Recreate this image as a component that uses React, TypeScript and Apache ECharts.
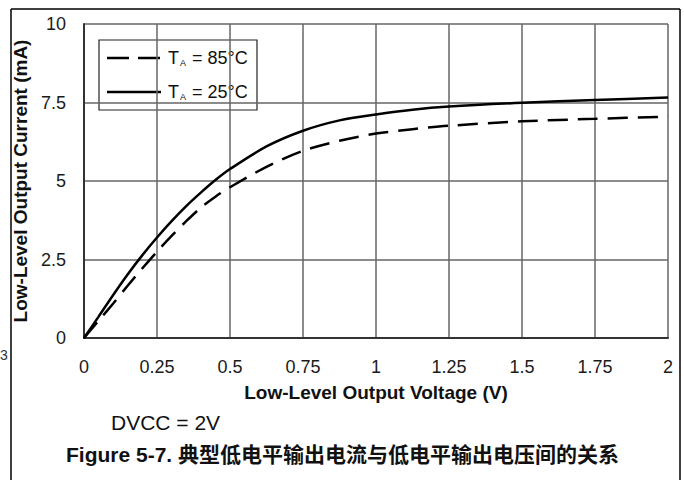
import React, { useEffect, useRef } from "react";
import * as echarts from "echarts";

const voltage25 = [0, 0.05, 0.1, 0.15, 0.2, 0.25, 0.3, 0.35, 0.4, 0.45, 0.5, 0.625, 0.75, 0.875, 1.0, 1.125, 1.25, 1.5, 1.75, 2.0];
const current25 = [0, 0.68, 1.37, 2.03, 2.64, 3.2, 3.72, 4.2, 4.63, 5.03, 5.38, 6.1, 6.6, 6.93, 7.12, 7.27, 7.37, 7.49, 7.58, 7.66];
const voltage85 = [0, 0.05, 0.1, 0.15, 0.2, 0.25, 0.3, 0.35, 0.4, 0.45, 0.5, 0.625, 0.75, 0.875, 1.0, 1.125, 1.25, 1.5, 1.75, 2.0];
const current85 = [0, 0.55, 1.1, 1.67, 2.22, 2.75, 3.25, 3.72, 4.15, 4.5, 4.8, 5.45, 5.96, 6.28, 6.51, 6.65, 6.76, 6.9, 6.98, 7.05];

const seriesNames = ["TA = 85°C", "TA = 25°C"];
const legendTexts = ["{t|T}{s|A}{t| = 85°C}", "{t|T}{s|A}{t| = 25°C}"];
const xAxisTitle = "Low-Level Output Voltage (V)";
const yAxisTitle = "Low-Level Output Current (mA)";
const noteText = "DVCC = 2V";
const captionText = "Figure 5-7. 典型低电平输出电流与低电平输出电压间的关系";

const FONT = "'Liberation Sans', Arial, 'Noto Sans CJK SC', sans-serif";
const DASH = [20, 10];

export default function App() {
  const ref = useRef<HTMLDivElement>(null);
  useEffect(() => {
    if (!ref.current) return;
    const chart = echarts.init(ref.current, null, { renderer: "svg" });
    const zip = (xs: number[], ys: number[]) => xs.map((x, i) => [x, ys[i]]);
    const richStyle = {
      t: { fontSize: 18, fontFamily: FONT, fill: "#111", color: "#111" },
      s: { fontSize: 9, fontFamily: FONT, fill: "#111", color: "#111", verticalAlign: "bottom", padding: [9, 1, 0, 1] },
    };
    chart.setOption({
      animation: false,
      backgroundColor: "#ffffff",
      textStyle: { fontFamily: FONT },
      grid: { left: 84, top: 24, right: 16, bottom: 142, containLabel: false },
      xAxis: {
        type: "value",
        min: 0,
        max: 2,
        interval: 0.25,
        name: xAxisTitle,
        nameLocation: "middle",
        nameGap: 45,
        nameTextStyle: { fontFamily: FONT, fontSize: 19, fontWeight: "bold", color: "#111" },
        axisLine: { show: true, lineStyle: { color: "#333", width: 2 } },
        axisTick: { show: false },
        axisLabel: { fontFamily: FONT, fontSize: 18, color: "#1a1a1a", margin: 20 },
        splitLine: { show: true, lineStyle: { color: "#666", width: 1.5 } },
      },
      yAxis: {
        type: "value",
        min: 0,
        max: 10,
        interval: 2.5,
        name: yAxisTitle,
        nameLocation: "middle",
        nameRotate: 90,
        nameGap: 47,
        nameTextStyle: { fontFamily: FONT, fontSize: 19, fontWeight: "bold", color: "#111" },
        axisLine: { show: true, lineStyle: { color: "#333", width: 2 } },
        axisTick: { show: false },
        axisLabel: { fontFamily: FONT, fontSize: 18, color: "#1a1a1a", margin: 18 },
        splitLine: { show: true, lineStyle: { color: "#666", width: 1.5 } },
      },
      series: [
        {
          name: seriesNames[0],
          type: "line",
          data: zip(voltage85, current85),
          symbol: "none",
          showSymbol: false,
          smooth: 0.3,
          color: "#000",
          lineStyle: { color: "#000", width: 2.5, type: DASH },
          z: 3,
        },
        {
          name: seriesNames[1],
          type: "line",
          data: zip(voltage25, current25),
          symbol: "none",
          showSymbol: false,
          smooth: 0.3,
          color: "#000",
          lineStyle: { color: "#000", width: 2.5, type: "solid" },
          z: 4,
        },
      ],
      graphic: [
        { type: "line", shape: { x1: 11, y1: 9, x2: 680, y2: 9 }, style: { stroke: "#000", lineWidth: 1.5 } },
        { type: "line", shape: { x1: 11, y1: 9, x2: 11, y2: 480 }, style: { stroke: "#000", lineWidth: 1.5 } },
        { type: "line", shape: { x1: 680, y1: 9, x2: 680, y2: 480 }, style: { stroke: "#000", lineWidth: 1.5 } },
        {
          type: "text",
          x: 0,
          y: 355,
          style: { text: "3", fontFamily: FONT, fontSize: 14, fill: "#333", align: "left", verticalAlign: "middle" },
        },
        {
          type: "group",
          z: 100,
          children: [
            { type: "rect", shape: { x: 99, y: 40, width: 158, height: 70 }, style: { fill: "#fff", stroke: "#222", lineWidth: 1.2 } },
            { type: "line", shape: { x1: 107, y1: 58, x2: 161, y2: 58 }, style: { stroke: "#000", lineWidth: 2.5, lineDash: [22, 9] } },
            { type: "line", shape: { x1: 107, y1: 92, x2: 161, y2: 92 }, style: { stroke: "#000", lineWidth: 2.5 } },
            { type: "text", x: 168, y: 58, style: { text: legendTexts[0], rich: richStyle, fontFamily: FONT, fontSize: 18, fill: "#111", align: "left", verticalAlign: "middle" } },
            { type: "text", x: 168, y: 92, style: { text: legendTexts[1], rich: richStyle, fontFamily: FONT, fontSize: 18, fill: "#111", align: "left", verticalAlign: "middle" } },
          ],
        },
        {
          type: "text",
          x: 111,
          y: 422,
          style: { text: noteText, fontFamily: FONT, fontSize: 21, fill: "#111", align: "left", verticalAlign: "middle" },
        },
        {
          type: "text",
          x: 66,
          y: 454,
          style: { text: captionText, fontFamily: FONT, fontSize: 21, fontWeight: "bold", fill: "#111", align: "left", verticalAlign: "middle" },
        },
      ],
    });
    return () => chart.dispose();
  }, []);
  return <div ref={ref} style={{ width: 684, height: 480, position: "absolute", left: 0, top: 0 }} />;
}
